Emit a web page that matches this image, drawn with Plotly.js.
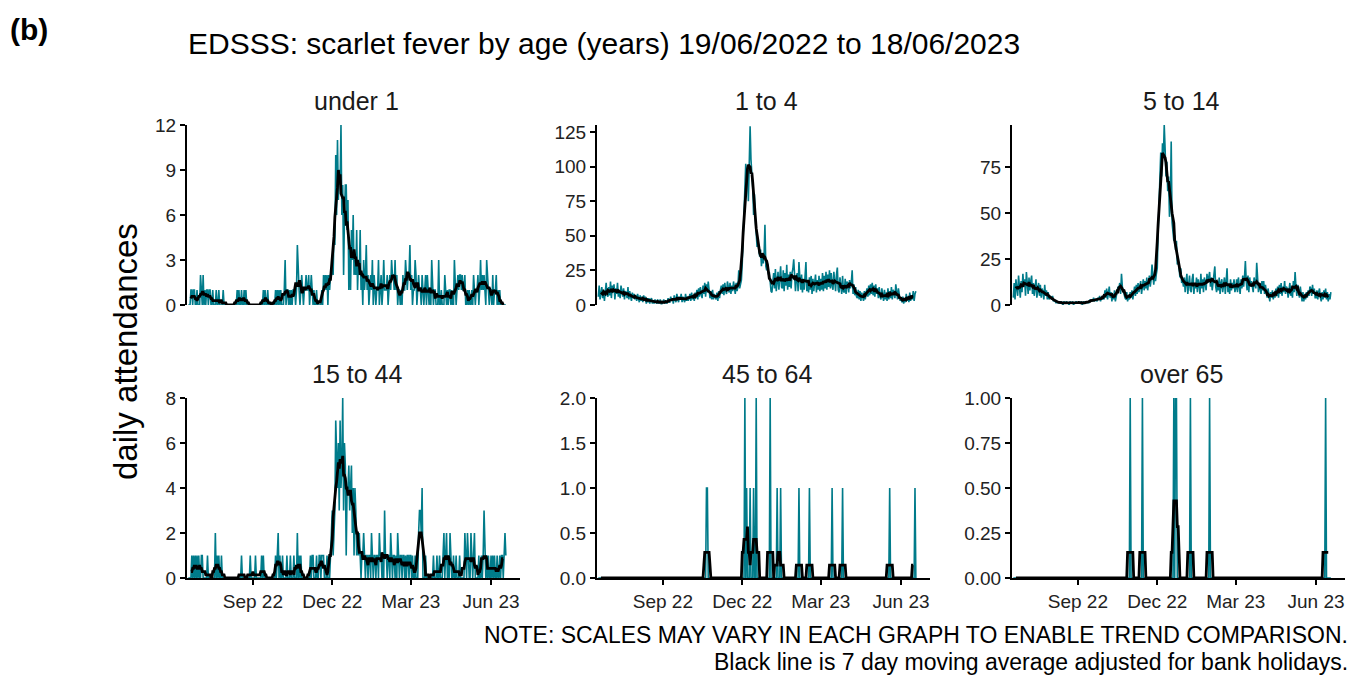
<!DOCTYPE html>
<html><head><meta charset="utf-8">
<script src="https://cdn.plot.ly/plotly-3.0.1.min.js"></script>
<style>html,body{margin:0;padding:0;background:#fff;}#chart{width:1355px;height:675px;}</style>
</head><body><div id="chart"></div>
<script>
// ---------------- data (daily attendances, 19/06/2022 .. 18/06/2023) ----------------
const startDate = '2022-06-19';
const nDays = 365;

const under1 = [
 0,0,0,1,1,0,1,1,0,0,1,0,
 0,0,2,1,0,2,0,1,0,1,1,0,1,1,0,0,1,0,0,0,1,0,0,1,0,0,0,0,1,0,0,
 0,0,0,0,0,0,0,0,0,0,0,0,0,1,0,1,0,0,1,0,0,1,0,1,0,0,0,0,0,0,0,
 0,0,0,0,0,0,0,0,0,0,0,0,1,0,1,0,0,1,0,0,0,0,0,0,0,0,1,0,1,0,
 1,0,1,0,0,0,1,3,0,1,1,0,1,0,1,0,1,1,1,0,1,4,2,1,0,1,2,1,0,1,1,
 2,1,1,2,0,1,2,1,0,1,0,0,1,0,0,0,0,0,1,0,2,1,2,1,2,0,2,1,2,2,
 3,2,5,4,10,6,11,7,9,8,12,6,8,2,6,8,8,5,7,1,4,1,5,3,6,2,3,2,5,1,3,
 2,5,1,2,0,3,1,2,4,1,2,0,1,2,1,3,0,2,1,0,1,1,3,0,1,2,0,1,3,1,1,
 1,2,0,1,2,1,3,2,2,1,3,1,2,0,1,1,0,1,0,2,1,1,3,2,1,2,2,4,
 1,2,0,1,1,3,2,0,1,2,1,1,0,2,1,0,1,2,0,2,1,0,1,0,3,1,0,1,1,0,0,
 0,3,0,0,1,0,0,0,2,1,0,1,0,1,1,0,1,0,0,3,1,0,1,2,1,2,2,1,2,1,
 1,2,0,0,1,0,1,0,0,1,0,2,1,0,1,1,2,0,1,3,1,2,1,2,1,0,3,2,1,0,1,
 1,0,2,0,1,1,2,0,1,0,1,0,0,0,0,0,0,0
];

const age1to4 = [
 6,14,4,10,13,5,11,3,9,16,7,6,
 13,7,17,5,14,9,15,4,12,8,16,6,11,5,14,8,6,12,4,10,9,5,13,4,10,6,3,9,5,8,4,
 7,3,8,4,2,7,3,6,2,7,3,6,1,5,2,5,1,4,5,1,3,1,4,2,1,4,1,2,4,1,1,
 2,4,1,3,1,2,5,2,2,6,3,5,1,7,4,2,8,4,2,6,4,8,2,6,4,2,8,3,6,3,
 5,8,3,9,4,7,3,9,5,11,4,12,6,13,8,5,14,8,16,6,15,9,17,8,5,10,4,11,4,8,5,
 4,9,3,10,5,11,14,8,15,7,16,10,8,17,11,9,16,8,14,10,17,11,8,16,10,13,25,12,16,18,
 30,50,65,85,102,90,98,75,110,129,105,95,85,65,80,62,55,42,45,38,35,40,28,35,30,35,58,28,25,30,22,
 24,14,10,9,20,23,12,26,10,21,24,11,22,28,13,12,25,10,23,14,29,11,22,13,24,12,23,26,33,14,10,
 19,23,10,31,20,11,22,9,19,11,21,31,10,18,9,20,11,21,8,19,10,20,22,9,18,11,21,10,
 19,11,23,10,21,12,24,11,22,13,25,12,23,14,11,24,13,10,22,27,11,9,20,12,8,21,10,9,19,8,17,
 15,9,18,12,16,25,8,15,7,13,6,5,11,4,10,3,9,4,3,10,4,9,12,6,14,7,15,8,16,7,
 14,6,15,8,12,5,13,6,4,12,5,3,11,4,9,3,12,4,10,5,13,4,11,7,5,15,6,4,12,5,3,
 5,2,6,1,5,2,8,3,6,2,9,3,7,4,10,3,8,10
];

const age5to14 = [
 4,12,3,14,9,5,16,10,4,13,7,17,
 10,14,5,18,11,6,15,8,13,16,6,12,5,10,14,4,9,12,5,11,4,9,7,3,11,5,8,3,7,3,5,
 4,3,5,2,3,2,1,2,1,2,1,1,2,1,0,2,1,1,2,1,1,0,2,1,1,2,0,1,1,2,1,
 1,2,1,1,2,0,1,2,1,1,2,1,2,1,3,2,3,2,4,2,3,3,2,4,3,5,2,4,3,5,
 3,8,4,9,3,7,10,4,7,2,6,3,8,2,5,7,10,9,12,6,17,10,8,5,4,3,7,2,5,3,7,
 4,8,3,7,10,5,11,6,12,7,10,13,6,11,14,8,13,9,15,8,13,16,10,14,22,15,11,17,13,17,
 20,40,60,75,83,70,88,80,98,85,70,78,62,70,48,55,89,45,40,35,38,30,35,22,25,18,15,20,12,14,10,
 15,7,13,17,6,12,16,8,7,14,17,6,12,9,15,7,14,11,6,17,9,14,7,15,11,8,17,12,15,18,10,
 15,8,13,16,21,10,7,13,8,15,6,12,14,7,10,15,6,12,20,7,11,6,14,8,12,9,14,7,
 9,14,7,15,11,6,14,9,16,10,15,24,13,8,16,7,15,10,13,8,7,15,10,9,23,13,7,12,9,6,13,
 8,13,6,11,5,4,9,3,2,7,4,8,3,7,4,9,5,10,4,11,6,12,5,10,7,13,6,10,9,4,
 7,12,5,10,4,13,7,18,10,5,11,7,4,10,3,2,7,2,6,3,7,4,8,5,10,9,5,11,6,9,4,
 4,8,3,7,9,4,2,7,3,8,4,9,3,7,2,6,3,7
];

const age15to44 = [
 0,0,0,0,1,0,1,0,1,0,1,0,
 1,0,0,1,1,0,0,0,0,0,1,0,0,0,0,0,0,0,0,2,0,1,0,1,0,0,1,0,0,0,0,
 0,0,0,0,0,0,0,0,0,0,0,0,0,0,0,0,0,0,1,0,0,0,0,0,0,0,0,0,1,0,0,
 0,0,0,1,0,0,0,0,0,0,1,0,1,0,0,0,0,0,0,0,0,0,0,0,0,0,1,0,1,2,
 0,1,0,0,1,0,0,0,0,1,0,0,0,1,0,0,0,1,0,0,0,2,0,1,0,1,0,0,0,0,0,
 0,0,0,0,0,1,0,1,1,0,0,0,1,0,0,1,1,0,1,1,1,0,0,0,1,0,0,0,1,2,
 3,1,2,3,7,5,4,6,3,7,4,5,8,3,6,5,1,4,4,5,3,4,5,2,4,1,4,3,1,2,1,
 2,1,0,1,1,2,1,0,1,1,0,1,1,0,2,1,0,1,1,0,1,1,0,2,1,1,0,1,0,3,1,
 1,0,1,1,0,2,1,0,1,1,0,1,0,2,1,0,1,1,0,1,1,0,1,0,1,1,0,1,
 1,0,1,0,0,1,0,0,0,2,3,3,2,4,0,0,0,1,0,0,0,0,0,0,0,0,1,0,0,0,1,
 0,0,1,0,0,0,1,2,0,1,2,0,1,0,2,1,0,0,1,0,0,1,0,0,0,1,0,0,0,0,
 0,2,1,0,2,1,0,0,2,1,0,1,2,0,0,0,0,1,0,0,1,0,1,3,1,0,1,0,1,0,0,
 1,0,1,0,1,0,0,1,0,0,1,0,1,1,0,1,2,1
];

// sparse groups: only the days with attendances (all other days are 0)
const age45to64Dates  = ['2022-10-21','2022-10-22','2022-12-04','2022-12-06','2022-12-10','2022-12-14','2022-12-17','2023-01-02','2023-01-10','2023-01-14','2023-02-04','2023-02-16','2023-03-14','2023-03-26','2023-05-19','2023-06-17'];
const age45to64Counts = [1,1,2,1,1,1,2,2,1,1,1,1,1,1,1,1];
const over65Dates  = ['2022-10-31','2022-11-14','2022-12-20','2022-12-22','2022-12-23','2023-01-08','2023-01-30','2023-06-12'];
const over65Counts = [1,1,1,1,1,1,1,1];

const panelTitles = ['under 1','1 to 4','5 to 14','15 to 44','45 to 64','over 65'];
const xTickVals = ['2022-09-01','2022-12-01','2023-03-01','2023-06-01'];
const xTickText = ['Sep 22','Dec 22','Mar 23','Jun 23'];
const yTickVals = [[0,3,6,9,12],[0,25,50,75,100,125],[0,25,50,75],[0,2,4,6,8],[0,0.5,1,1.5,2],[0,0.25,0.5,0.75,1]];
const yTickFmt = ['d','d','d','d','.1f','.2f'];
const yMax = [12,130,98,8,2,1];

// ---------------- helpers ----------------
function buildDates(start, n) {
  const [y, m, d] = start.split('-').map(Number);
  const out = [];
  for (let i = 0; i < n; i++) {
    const t = new Date(Date.UTC(y, m - 1, d + i));
    out.push(t.toISOString().slice(0, 10));
  }
  return out;
}
const dates = buildDates(startDate, nDays);
function fromEvents(evDates, evCounts) {
  const arr = new Array(nDays).fill(0);
  evDates.forEach((dt, i) => { const k = dates.indexOf(dt); if (k >= 0) arr[k] += evCounts[i]; });
  return arr;
}
function movingAvg7(v) {
  return v.map((_, i) => (i < 3 || i > v.length - 4) ? null :
    v.slice(i - 3, i + 4).reduce((a, b) => a + b, 0) / 7);
}

const series = [under1, age1to4, age5to14, age15to44,
                fromEvents(age45to64Dates, age45to64Counts), fromEvents(over65Dates, over65Counts)];

// ---------------- layout geometry ----------------
const W = 1355, H = 675;
const colLeft = [187, 597, 1012];
const panelW = 333;
const rowTop = [125, 398];
const panelH = 180;
const xRange = ['2022-06-17 12:00', '2023-07-04 05:00'];
const teal = '#007B8A';
const font = 'Liberation Sans, Arial, sans-serif';

const traces = [];
const layout = {
  width: W, height: H, margin: {l: 0, r: 0, t: 0, b: 0},
  paper_bgcolor: '#fff', plot_bgcolor: '#fff', showlegend: false,
  font: {family: font, color: '#000'},
  annotations: []
};

series.forEach((vals, p) => {
  const col = p % 3, row = Math.floor(p / 3);
  const sfx = p === 0 ? '' : String(p + 1);
  traces.push({x: dates, y: vals, type: 'scatter', mode: 'lines', xaxis: 'x' + sfx, yaxis: 'y' + sfx,
    line: {color: teal, width: 1.6}, hoverinfo: 'skip'});
  traces.push({x: dates, y: movingAvg7(vals), type: 'scatter', mode: 'lines', xaxis: 'x' + sfx, yaxis: 'y' + sfx,
    line: {color: '#000', width: 2.8}, connectgaps: false, hoverinfo: 'skip'});
  const x0 = colLeft[col] / W, x1 = (colLeft[col] + panelW) / W;
  const yTop = 1 - rowTop[row] / H, yBot = 1 - (rowTop[row] + panelH) / H;
  const bottom = row === 1;
  layout['xaxis' + sfx] = {
    domain: [x0, x1], anchor: 'y' + sfx, type: 'date', range: xRange,
    showgrid: false, zeroline: false,
    showline: bottom, linecolor: '#000', linewidth: 2,
    ticks: bottom ? 'outside' : '', ticklen: 5, tickwidth: 2, tickcolor: '#000',
    showticklabels: bottom, tickvals: xTickVals, ticktext: xTickText,
    tickfont: {size: 19, color: '#222', family: font}
  };
  layout['yaxis' + sfx] = {
    domain: [yBot, yTop], anchor: 'x' + sfx, range: [0, yMax[p]],
    showgrid: false, zeroline: false, showline: true, linecolor: '#000', linewidth: 2,
    ticks: 'outside', ticklen: 5, tickwidth: 2, tickcolor: '#000',
    tickvals: yTickVals[p], tickformat: yTickFmt[p],
    tickfont: {size: 19, color: '#222', family: font}
  };
  layout.annotations.push({
    text: panelTitles[p], xref: 'paper', yref: 'paper',
    x: (colLeft[col] + panelW / 2 + 3) / W, y: 1 - (rowTop[row] - 24) / H,
    xanchor: 'center', yanchor: 'middle', showarrow: false,
    font: {size: 25, color: '#1a1a1a', family: font}
  });
});

layout.annotations.push(
  {text: '<b>(b)</b>', xref: 'paper', yref: 'paper', x: 8 / W, y: 1 - 29 / H, xanchor: 'left', yanchor: 'middle',
   showarrow: false, font: {size: 30, color: '#000', family: font}},
  {text: 'EDSSS: scarlet fever by age (years) 19/06/2022 to 18/06/2023', xref: 'paper', yref: 'paper',
   x: 186 / W, y: 1 - 43 / H, xanchor: 'left', yanchor: 'middle', showarrow: false,
   font: {size: 30, color: '#000', family: font}},
  {text: 'daily attendances', xref: 'paper', yref: 'paper', x: 126 / W, y: 1 - 352 / H, textangle: -90,
   xanchor: 'center', yanchor: 'middle', showarrow: false, font: {size: 33, color: '#000', family: font}},
  {text: 'NOTE: SCALES MAY VARY IN EACH GRAPH TO ENABLE TREND COMPARISON.', xref: 'paper', yref: 'paper',
   x: 1350 / W, y: 1 - 635 / H, xanchor: 'right', yanchor: 'middle', showarrow: false,
   font: {size: 23, color: '#000', family: font}},
  {text: 'Black line is 7 day moving average adjusted for bank holidays.', xref: 'paper', yref: 'paper',
   x: 1350 / W, y: 1 - 662 / H, xanchor: 'right', yanchor: 'middle', showarrow: false,
   font: {size: 23, color: '#000', family: font}}
);

Plotly.newPlot('chart', traces, layout, {staticPlot: true, displayModeBar: false});
</script>
</body></html>
